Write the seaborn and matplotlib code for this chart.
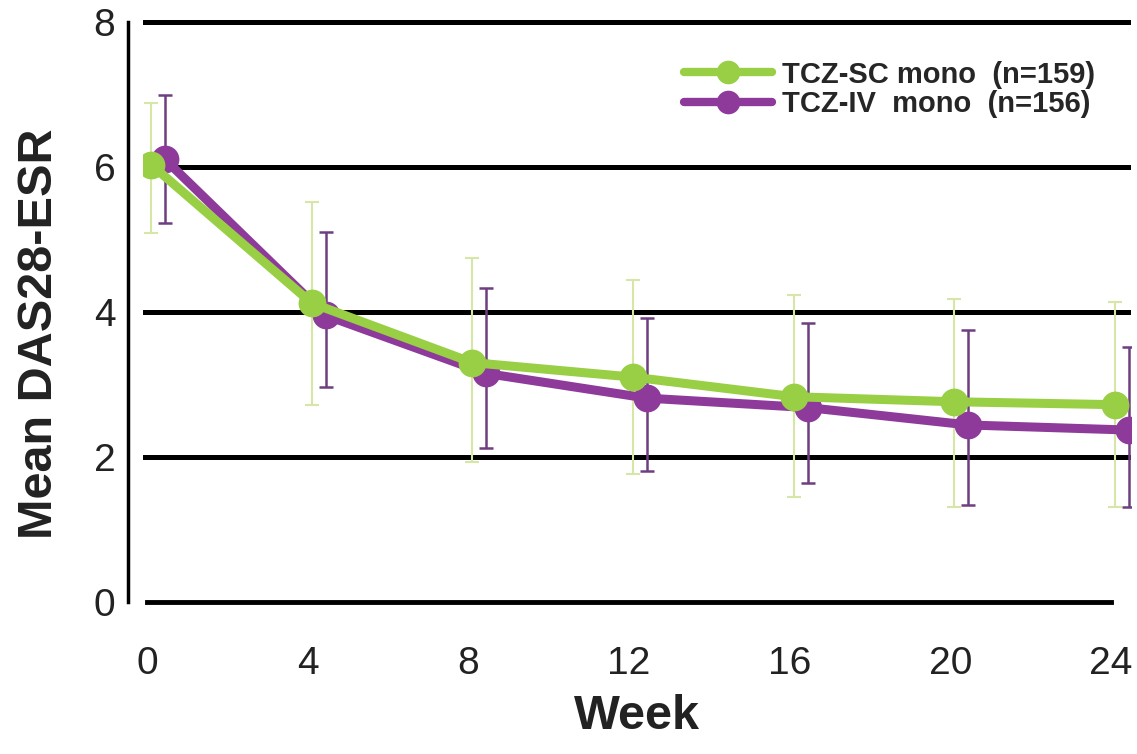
import numpy as np
import pandas as pd
import matplotlib
matplotlib.use("Agg")
import matplotlib.pyplot as plt
import seaborn as sns
from matplotlib.lines import Line2D

# data
weeks = [0, 4, 8, 12, 16, 20, 24]
sc_mean = [6.03, 4.12, 3.30, 3.10, 2.83, 2.76, 2.72]
sc_upper = [6.88, 5.52, 4.74, 4.44, 4.23, 4.17, 4.14]
sc_lower = [5.09, 2.72, 1.93, 1.76, 1.45, 1.31, 1.31]
iv_mean = [6.10, 3.95, 3.15, 2.81, 2.68, 2.44, 2.37]
iv_upper = [6.99, 5.10, 4.33, 3.92, 3.85, 3.75, 3.52]
iv_lower = [5.23, 2.97, 2.12, 1.80, 1.64, 1.34, 1.31]
labels = ["TCZ-SC mono  (n=159)", "TCZ-IV  mono  (n=156)"]

green = "#98cf45"
purple = "#8e3a9a"

sns.set_style("white")
plt.rcParams['font.family'] = ['Liberation Sans', 'DejaVu Sans']

fig = plt.figure(figsize=(11.37, 7.54), dpi=100)
ax = fig.add_axes([0.1258, 0.2016, 0.869, 0.7745])

# small horizontal shift so the two groups don't sit on top of each other
shift = {labels[0]: 0.1, labels[1]: 0.45}

df = pd.DataFrame({
    "week": weeks * 2,
    "mean": sc_mean + iv_mean,
    "upper": sc_upper + iv_upper,
    "lower": sc_lower + iv_lower,
    "group": [labels[0]] * len(weeks) + [labels[1]] * len(weeks),
})
df["x"] = df["week"] + df["group"].map(shift)

for g, ecol, lw in [(labels[1], "#6e3f80", 1.8), (labels[0], "#d6e6a6", 1.5)]:
    d = df[df["group"] == g]
    ax.errorbar(d["x"], d["mean"],
                yerr=[d["mean"] - d["lower"], d["upper"] - d["mean"]],
                fmt="none", ecolor=ecol, elinewidth=lw, capsize=5, capthick=lw, zorder=3)

sns.lineplot(data=df, x="x", y="mean", hue="group", hue_order=[labels[1], labels[0]],
             palette={labels[0]: green, labels[1]: purple}, marker="o", markersize=20,
             markeredgewidth=0, linewidth=6.5, ax=ax, zorder=4, legend=False)

ax.set_xlim(-0.1, 24.5)
ax.set_ylim(0, 8.05)
ax.set_xticks(weeks)
ax.set_yticks([0, 2, 4, 6, 8])
for yv in [2, 4, 6, 8]:
    ax.axhline(yv, color="black", lw=3.6, zorder=1)

sns.despine(ax=ax)
ax.spines["left"].set_position(("outward", 11))
ax.spines["left"].set_bounds(0, 8)
ax.spines["bottom"].set_bounds(0, 24)
ax.spines["left"].set_linewidth(2.5)
ax.spines["bottom"].set_linewidth(3.5)
ax.spines["left"].set_color("black")
ax.spines["bottom"].set_color("black")
ax.tick_params(axis="x", direction="out", length=10, width=2.5, labelsize=28, pad=22, colors="#222222")
ax.tick_params(axis="y", direction="out", length=5, width=2.5, labelsize=28, pad=4, colors="#222222")

ax.set_xlabel("Week", fontsize=35, fontweight="bold", labelpad=8, color="#222222")
ax.set_ylabel("Mean DAS28-ESR", fontsize=35, fontweight="bold", color="#222222")
ax.yaxis.set_label_coords(-0.082, 0.46)

handles = [Line2D([], [], color=green, lw=6, marker="o", markersize=17, markeredgewidth=0),
           Line2D([], [], color=purple, lw=6, marker="o", markersize=17, markeredgewidth=0)]
ax.legend(handles, labels, loc="upper right", bbox_to_anchor=(0.99, 0.972), frameon=False,
          handlelength=3.0, handletextpad=0.35, labelspacing=0.05,
          prop={"weight": "bold", "size": 21})

fig.savefig("out.png", dpi=100)
